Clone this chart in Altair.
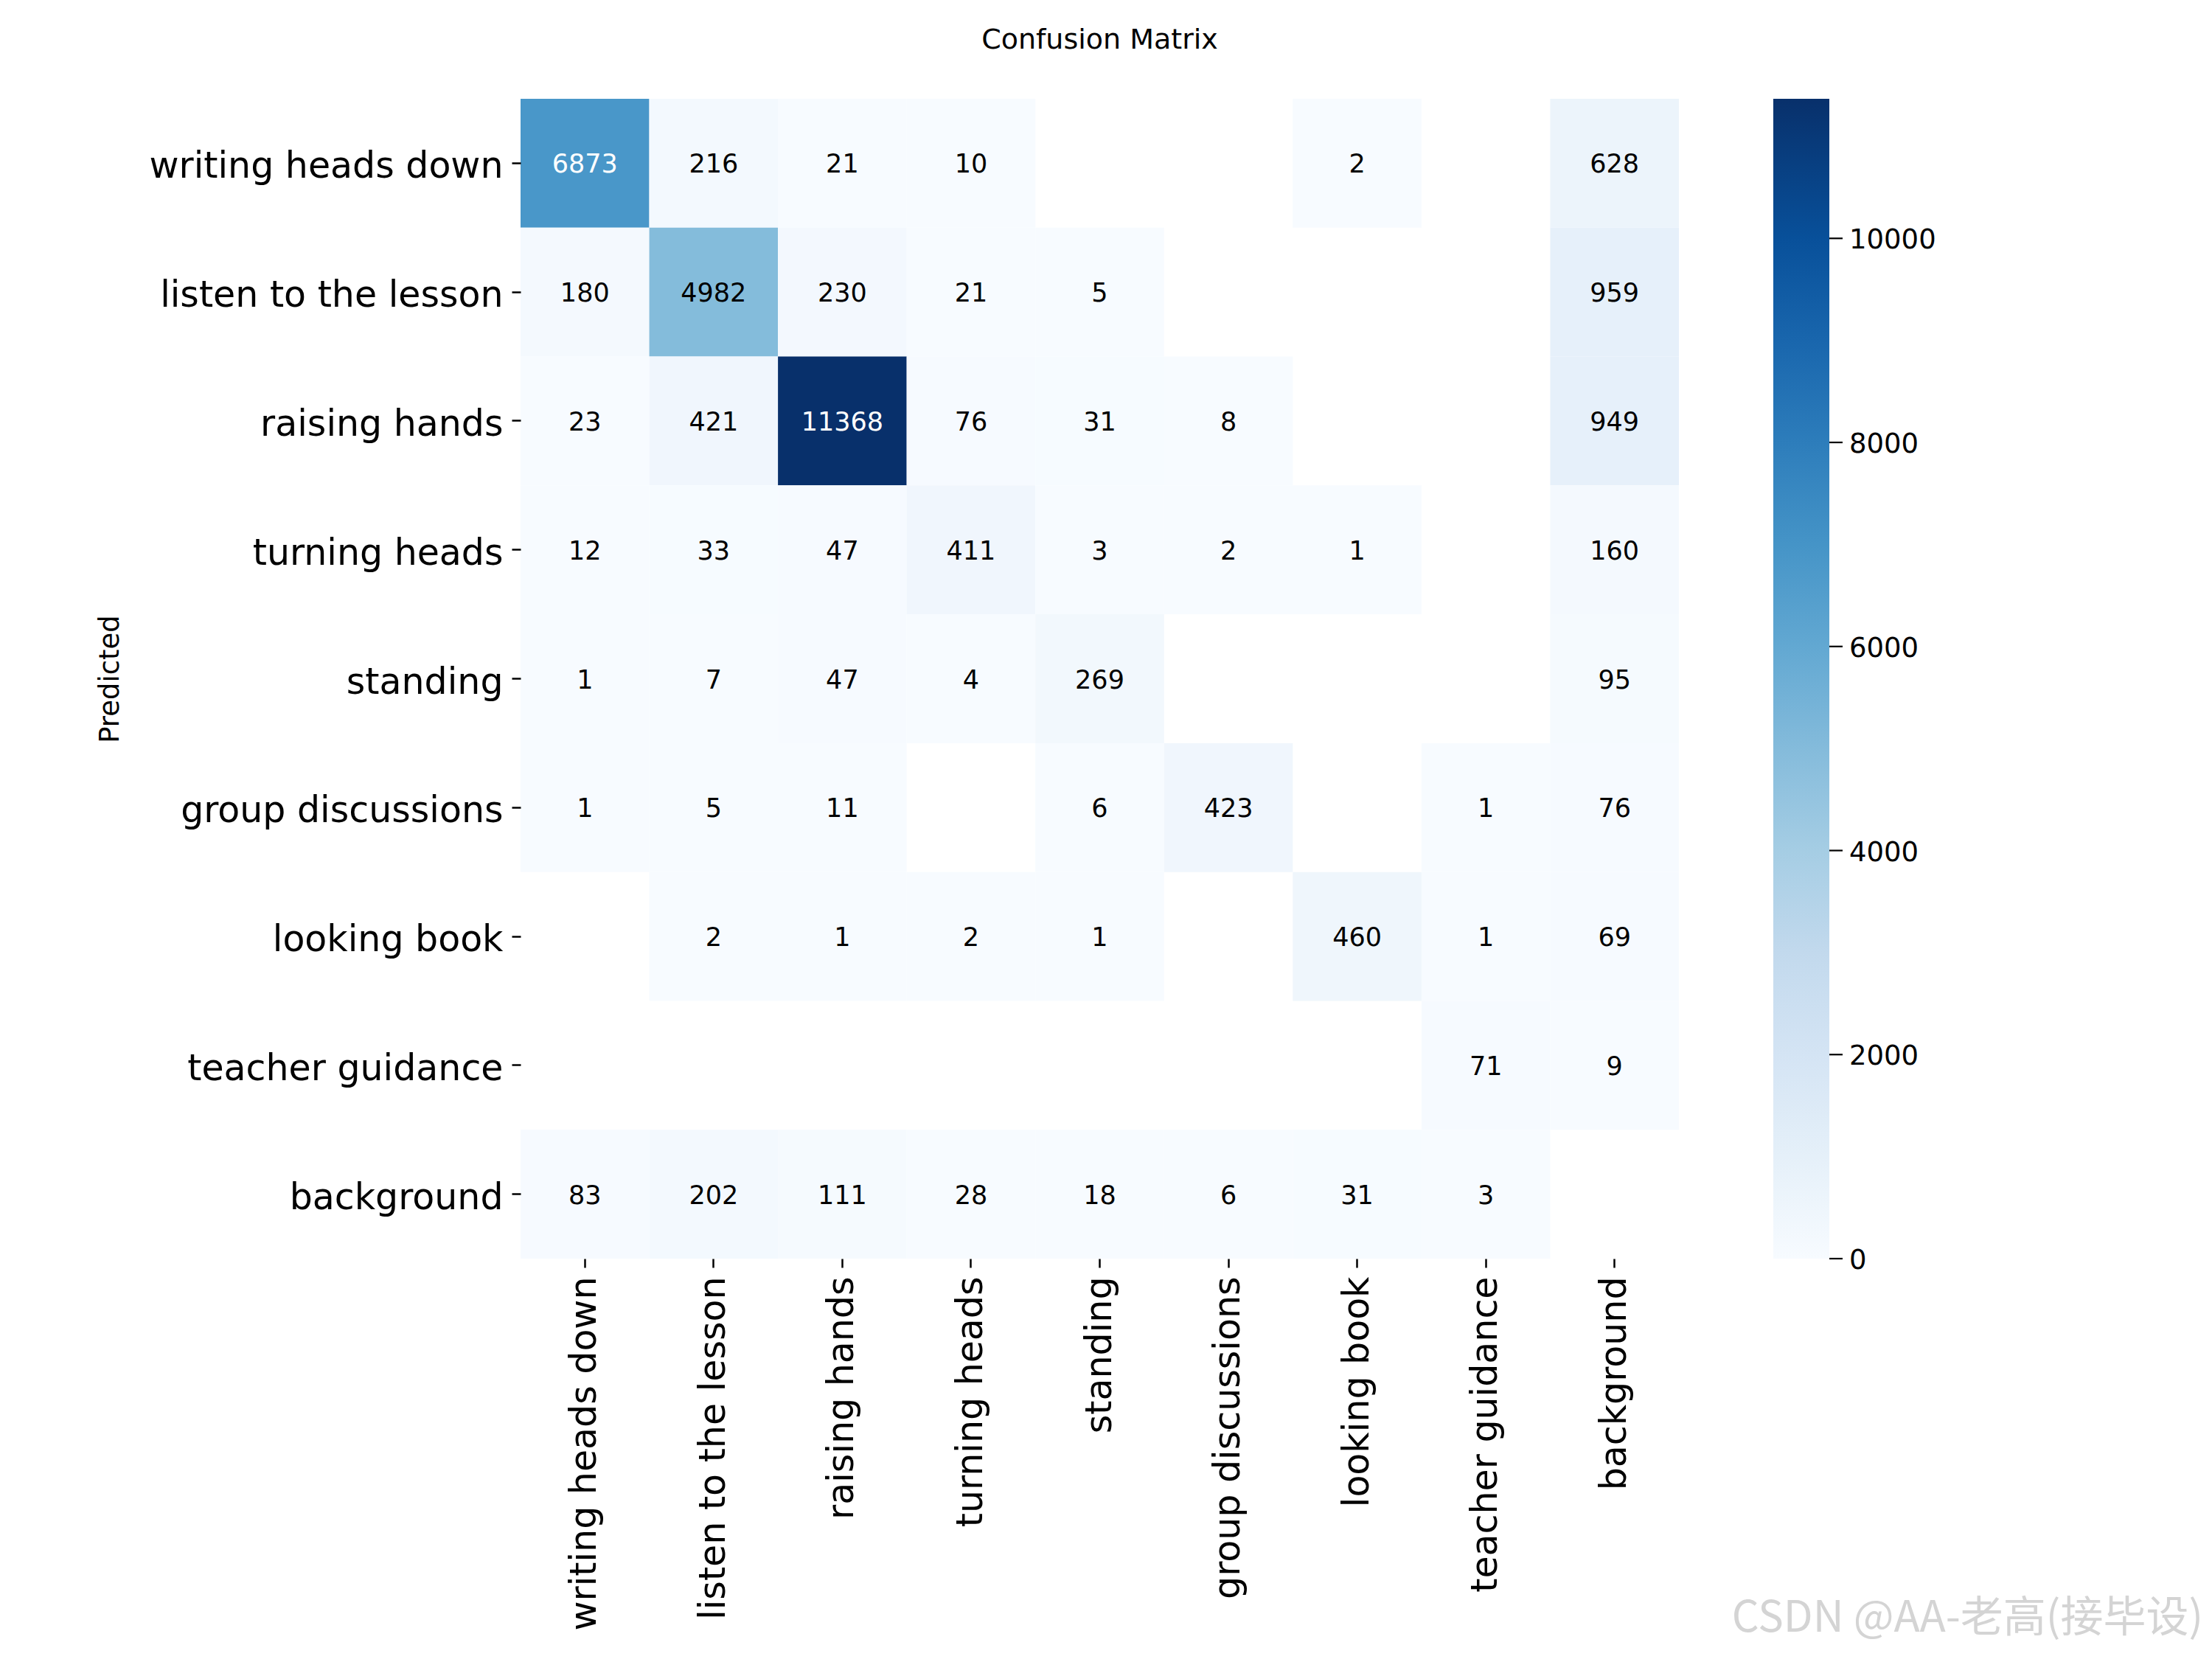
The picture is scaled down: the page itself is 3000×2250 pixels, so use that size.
import altair as alt
import pandas as pd

classes = ["writing heads down", "listen to the lesson", "raising hands", "turning heads",
           "standing", "group discussions", "looking book", "teacher guidance", "background"]

# rows = Predicted, columns = True
row_writing = [6873, 216, 21, 10, 0, 0, 2, 0, 628]
row_listen = [180, 4982, 230, 21, 5, 0, 0, 0, 959]
row_raising = [23, 421, 11368, 76, 31, 8, 0, 0, 949]
row_turning = [12, 33, 47, 411, 3, 2, 1, 0, 160]
row_standing = [1, 7, 47, 4, 269, 0, 0, 0, 95]
row_group = [1, 5, 11, 0, 6, 423, 0, 1, 76]
row_looking = [0, 2, 1, 2, 1, 0, 460, 1, 69]
row_teacher = [0, 0, 0, 0, 0, 0, 0, 71, 9]
row_background = [83, 202, 111, 28, 18, 6, 31, 3, 0]

matrix = [row_writing, row_listen, row_raising, row_turning, row_standing,
          row_group, row_looking, row_teacher, row_background]

colorbar_ticks = [0, 2000, 4000, 6000, 8000, 10000]
blues = ["#f7fbff", "#deebf7", "#c6dbef", "#9ecae1", "#6baed6",
         "#4292c6", "#2171b5", "#08519c", "#08306b"]
watermark = "CSDN @AA-老高(接毕设)"

records = []
for i, pred in enumerate(classes):
    for j, true in enumerate(classes):
        v = matrix[i][j]
        if v > 0:
            records.append({"pred": pred, "true": true, "value": v})
df = pd.DataFrame(records)

vmax = max(max(r) for r in matrix)
stops = [vmax * k / (len(blues) - 1) for k in range(len(blues))]

FONT = "DejaVu Sans"
W, H = 1571, 1573

xscale = alt.Scale(domain=classes, paddingInner=0, paddingOuter=0)
yscale = alt.Scale(domain=classes, paddingInner=0, paddingOuter=0)

x_enc = alt.X("true:N", sort=classes, scale=xscale,
              axis=alt.Axis(title=None, labelAngle=-90, labelFontSize=49, labelFont=FONT,
                            labelColor="black", tickSize=12, tickWidth=2.5, tickColor="black",
                            labelPadding=12, domain=False, grid=False, labelLimit=0))

rect = alt.Chart(df).mark_rect().encode(
    x=x_enc,
    y=alt.Y("pred:N", sort=classes, scale=yscale,
            axis=alt.Axis(title="Predicted", titleFontSize=37, titleFont=FONT,
                          titleFontWeight="normal", titleColor="black",
                          titleX=-538, titleY=H / 2, titleAngle=-90, titleBaseline="bottom",
                          labelFontSize=49, labelFont=FONT, labelColor="black",
                          labelOffset=5,
                          tickSize=12, tickWidth=2.5, tickColor="black", labelPadding=12,
                          domain=False, grid=False, labelLimit=0)),
    color=alt.Color("value:Q",
                    scale=alt.Scale(domain=stops, range=blues, interpolate="rgb"),
                    legend=alt.Legend(orient="none", legendX=1699, legendY=0,
                                      direction="vertical", gradientLength=H,
                                      gradientThickness=76, title=None,
                                      values=colorbar_ticks, labelFontSize=1,
                                      labelExpr="''", labelOffset=27,
                                      padding=0, gradientStrokeWidth=0,
                                      labelOverlap=False)),
)

text = alt.Chart(df).mark_text(fontSize=35, font=FONT, dy=2).encode(
    x=alt.X("true:N", sort=classes, scale=xscale),
    y=alt.Y("pred:N", sort=classes, scale=yscale, axis=None),
    text=alt.Text("value:Q", format="d"),
    color=alt.condition("datum.value > 6000", alt.value("white"), alt.value("black")),
)

cb_scale = alt.Scale(domain=[0, vmax], nice=False, zero=False)
cb_df = pd.DataFrame({"tick": colorbar_ticks})

ticks = alt.Chart(cb_df).mark_rule(color="black", strokeWidth=2.2).encode(
    y=alt.Y("tick:Q", scale=cb_scale, axis=None),
    x=alt.value(1775), x2=alt.value(1793),
)

tick_labels = alt.Chart(cb_df).mark_text(
    fontSize=37, font=FONT, align="left", baseline="middle", color="black", dy=3).encode(
    y=alt.Y("tick:Q", scale=cb_scale, axis=None),
    x=alt.value(1802),
    text=alt.Text("tick:Q", format="d"),
)

wm = alt.Chart(pd.DataFrame({"t": [watermark]})).mark_text(
    fontSize=58, font="Noto Sans CJK SC", align="right", baseline="middle",
    color="#d4d4d4").encode(
    text="t:N", x=alt.value(2282), y=alt.value(2062),
)

chart = alt.layer(rect, text, ticks, tick_labels, wm).resolve_scale(y="independent").properties(
    width=W, height=H,
    title=alt.TitleParams("Confusion Matrix", fontSize=38, font=FONT, fontWeight="normal",
                          color="black", offset=60, anchor="middle"),
    padding={"left": 698, "top": 126, "right": 715, "bottom": 535},
    autosize=alt.AutoSizeParams(type="none"),
).configure_view(stroke=None)

chart.save("out.html", embed_options={"renderer": "svg", "actions": False})
